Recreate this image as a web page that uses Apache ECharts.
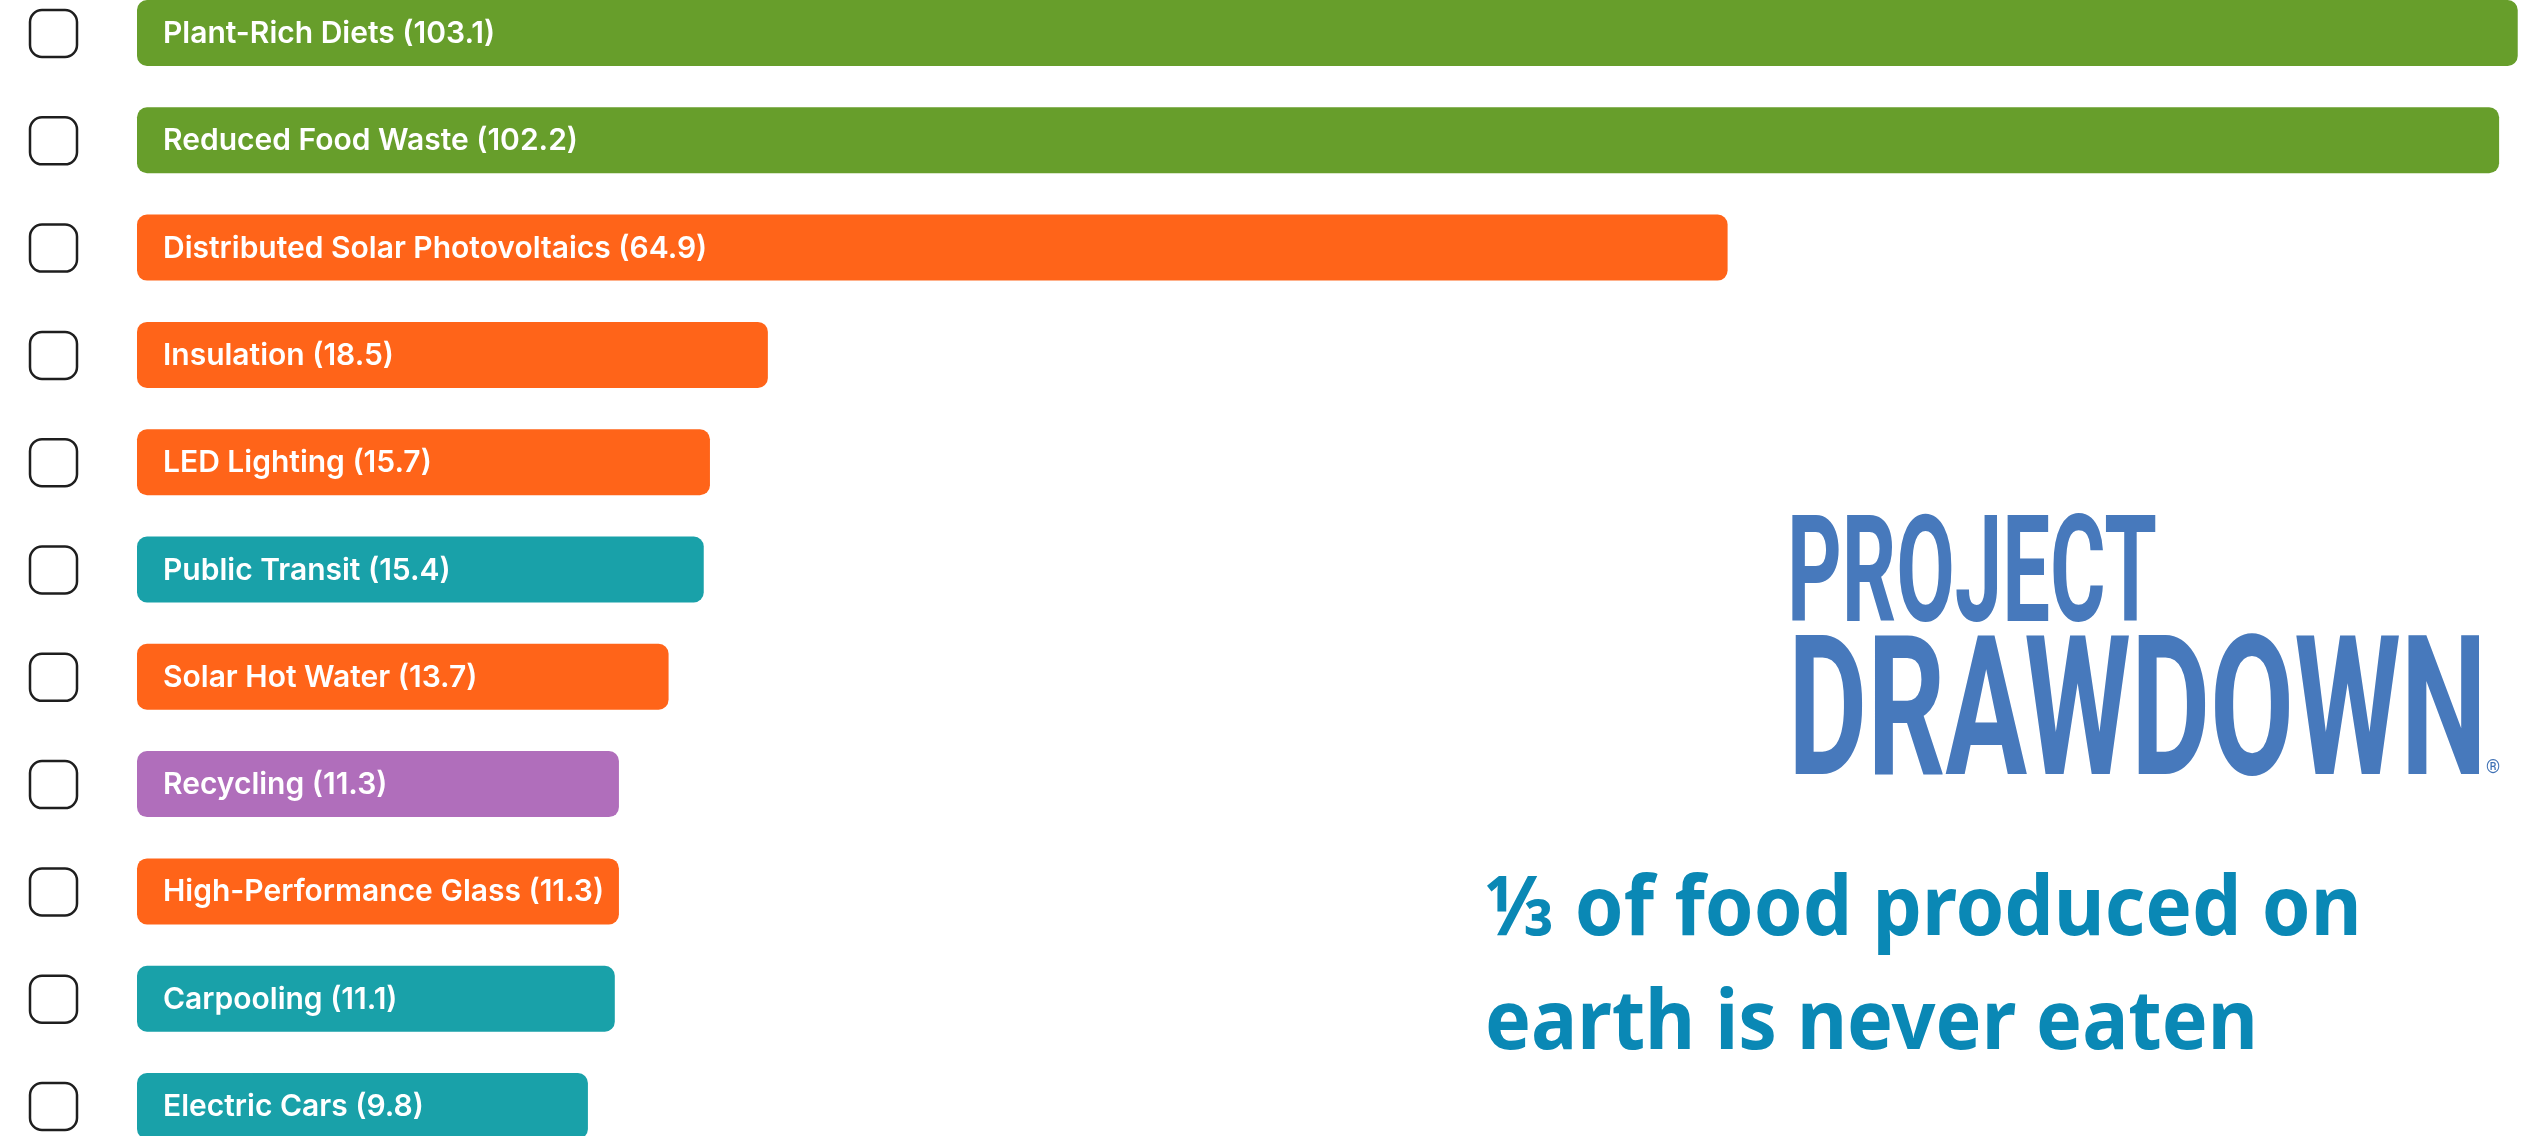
<!DOCTYPE html>
<html>
<head>
<meta charset="utf-8">
<style>
html,body{margin:0;padding:0;background:#fff;}
#chart{width:2526px;height:1136px;}
</style>
<script src="https://cdn.jsdelivr.net/npm/echarts@6/dist/echarts.min.js"></script>
</head>
<body>
<div id="chart"></div>
<script>
// ---- data ----
const categories = [
  'Plant-Rich Diets', 'Reduced Food Waste', 'Distributed Solar Photovoltaics',
  'Insulation', 'LED Lighting', 'Public Transit', 'Solar Hot Water',
  'Recycling', 'High-Performance Glass', 'Carpooling', 'Electric Cars'
];
const values = [103.1, 102.2, 64.9, 18.5, 15.7, 15.4, 13.7, 11.3, 11.3, 11.1, 9.8];
const sectors = ['food', 'food', 'energy', 'energy', 'energy', 'transport', 'energy',
  'materials', 'energy', 'transport', 'transport'];
const sectorColors = { food: '#679E2B', energy: '#FF6419', transport: '#19A1A9', materials: '#B06EBB' };
const logoLines = ['PROJECT', 'DRAWDOWN'];
const taglineLines = ['\u2153 of food produced on', 'earth is never eaten'];

const X_MIN = -12, X_MAX = 103.5;

const chart = echarts.init(document.getElementById('chart'), null, { renderer: 'canvas' });

chart.setOption({
  animation: false,
  backgroundColor: '#ffffff',
  grid: { left: 137, right: 0, top: 33, bottom: 30, containLabel: false },
  xAxis: { type: 'value', min: X_MIN, max: X_MAX, show: false },
  yAxis: { type: 'category', data: categories, inverse: true, boundaryGap: false, show: false },
  series: [{
    type: 'custom',
    encode: { x: 0, y: 1 },
    data: values.map((v, i) => [v, i]),
    renderItem: function (params, api) {
      const i = params.dataIndex;
      const v = api.value(0);
      const cat = api.value(1);
      const start = api.coord([X_MIN, cat]);
      const end = api.coord([v, cat]);
      const band = api.size([0, 1])[1];
      const h = band * 0.615;
      return {
        type: 'group',
        children: [
          {
            type: 'rect',
            shape: { x: start[0] - 107, y: start[1] - 23, width: 47, height: 47, r: 12 },
            style: { fill: '#ffffff', stroke: '#1e1e1e', lineWidth: 2.5 }
          },
          {
            type: 'rect',
            shape: { x: start[0], y: start[1] - h / 2, width: end[0] - start[0], height: h, r: 10 },
            style: { fill: sectorColors[sectors[i]] }
          },
          {
            type: 'text',
            style: {
              text: categories[i] + ' (' + v + ')',
              x: start[0] + 26, y: start[1] + 1,
              verticalAlign: 'middle', align: 'left',
              fill: '#ffffff',
              font: '600 30px Inter, "Open Sans", sans-serif'
            }
          }
        ]
      };
    }
  }],
  graphic: [
    {
      type: 'text', left: 1787, top: 509, scaleX: 0.57, originX: 0,
      style: { text: logoLines[0], font: 'bold 149px Roboto, sans-serif', fill: '#4779BC' }
    },
    {
      type: 'text', left: 1788, top: 628, scaleX: 0.625, originX: 0,
      style: { text: logoLines[1], font: 'bold 195px Roboto, sans-serif', fill: '#4779BC' }
    },
    {
      type: 'text', left: 2486, top: 759, z: 10,
      style: { text: '\u00AE', font: '18px Roboto, sans-serif', fill: '#3E70B4' }
    },
    {
      type: 'text', left: 1485, top: 871, scaleX: 0.955, originX: 0,
      style: { text: taglineLines[0], font: 'bold 82px "Noto Sans", sans-serif', fill: '#0A88B5' }
    },
    {
      type: 'text', left: 1485, top: 985, scaleX: 0.94, originX: 0,
      style: { text: taglineLines[1], font: 'bold 82px "Noto Sans", sans-serif', fill: '#0A88B5' }
    }
  ]
});
</script>
</body>
</html>
